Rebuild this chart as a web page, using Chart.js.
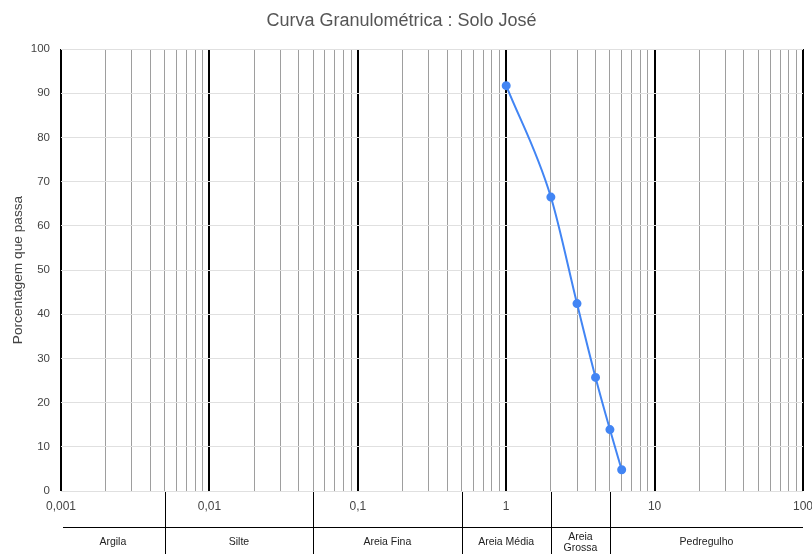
<!DOCTYPE html>
<html>
<head>
    <meta charset="utf-8">
    <title>Curva Granulométrica</title>
    <script src="https://cdn.jsdelivr.net/npm/chart.js@4.4.1/dist/chart.umd.min.js"></script>
    <style>
    html,
    body {
        margin: 0;
        padding: 0;
        background: #fff;
    }
    #wrap {
        width: 812px;
        height: 554px;
    }
    </style>
</head>
<body>
    <div id="wrap"><canvas id="myChart"></canvas></div>

    <script>
      // diâmetro das partículas (mm) e porcentagem que passa
      const diametros = [1, 2, 3, 4, 5, 6];
      const passa = [91.7, 66.5, 42.4, 25.7, 13.9, 4.8];

      // rótulos das décadas do eixo x
      const decadas = [0.001, 0.01, 0.1, 1, 10, 100];
      const rotulosDecadas = ['0,001', '0,01', '0,1', '1', '10', '100'];

      // faixas granulométricas (limites em mm)
      const faixas = ['Argila', 'Silte', 'Areia Fina', 'Areia Média', ['Areia', 'Grossa'], 'Pedregulho'];
      const limitesFaixas = [0.005, 0.05, 0.5, 2, 5];

      const fonte = '"Liberation Sans", Arial, sans-serif';

      function isDecada(v) {
        const l = Math.log10(v);
        return Math.abs(l - Math.round(l)) < 1e-6;
      }

      // tabela das faixas desenhada embaixo do eixo x
      const tabelaFaixas = {
        id: 'tabelaFaixas',
        afterDraw(chart) {
          const ctx = chart.ctx;
          const area = chart.chartArea;
          const x = chart.scales.x;
          const bottom = chart.height;
          const linhaY = area.bottom + 36;
          ctx.save();
          ctx.strokeStyle = '#000';
          ctx.lineWidth = 1;
          ctx.beginPath();
          ctx.moveTo(area.left + 2, linhaY + 0.5);
          ctx.lineTo(area.right, linhaY + 0.5);
          limitesFaixas.forEach(v => {
            const px = Math.round(x.getPixelForValue(v)) + 0.5;
            ctx.moveTo(px, area.bottom + 1);
            ctx.lineTo(px, bottom);
          });
          ctx.stroke();

          const bordas = [area.left].concat(limitesFaixas.map(v => x.getPixelForValue(v)), [area.right]);
          ctx.fillStyle = '#222';
          ctx.font = '10.5px ' + fonte;
          ctx.textAlign = 'center';
          ctx.textBaseline = 'middle';
          faixas.forEach((nome, i) => {
            const cx = (bordas[i] + bordas[i + 1]) / 2;
            if (Array.isArray(nome)) {
              ctx.fillText(nome[0], cx, linhaY + 10);
              ctx.fillText(nome[1], cx, linhaY + 21);
            } else {
              ctx.fillText(nome, cx, linhaY + 15);
            }
          });
          ctx.restore();
        }
      };

      const ctx = document.getElementById('myChart').getContext('2d');
      const myChart = new Chart(ctx, {
        type: 'line',
        data: {
          datasets: [
            {
              label: 'Porcentagem que passa',
              data: diametros.map((d, i) => ({ x: d, y: passa[i] })),
              borderColor: '#4285f4',
              backgroundColor: '#4285f4',
              borderWidth: 2,
              pointRadius: 3.5,
              pointHoverRadius: 4,
              cubicInterpolationMode: 'monotone',
              fill: false
            }
          ]
        },
        options: {
          responsive: true,
          maintainAspectRatio: false,
          animation: false,
          layout: { padding: { right: 9 } },
          plugins: {
            legend: { display: false },
            tooltip: { enabled: false },
            title: {
              display: true,
              text: 'Curva Granulométrica : Solo José',
              color: '#555',
              font: { family: fonte, size: 18, weight: 'normal' },
              padding: { top: 10, bottom: 17.4 }
            }
          },
          scales: {
            x: {
              type: 'logarithmic',
              min: 0.001,
              max: 100,
              afterBuildTicks(scale) {
                const ticks = [];
                decadas.forEach((d, i) => {
                  if (i === decadas.length - 1) {
                    ticks.push({ value: d });
                    return;
                  }
                  for (let k = 1; k <= 9; k++) ticks.push({ value: +(d * k).toPrecision(6) });
                });
                scale.ticks = ticks;
              },
              afterFit(scale) {
                scale.height = 63;
                // o rótulo "100" pode passar da borda
                scale.paddingLeft = 0;
                scale.paddingRight = 0;
              },
              border: { display: false },
              grid: {
                drawTicks: false,
                color: c => isDecada(c.tick.value) ? '#000' : '#9e9e9e',
                lineWidth: c => isDecada(c.tick.value) ? 2 : 1
              },
              ticks: {
                autoSkip: false,
                maxRotation: 0,
                padding: 8,
                color: '#444',
                font: { family: fonte, size: 12 },
                callback(value) {
                  const i = decadas.findIndex(d => Math.abs(d - value) < d * 1e-6);
                  return i >= 0 ? rotulosDecadas[i] : '';
                }
              }
            },
            y: {
              min: 0,
              max: 100,
              afterFit(scale) { scale.width = 61; },
              border: { display: false },
              grid: { drawTicks: false, color: '#e0e0e0', lineWidth: 1 },
              ticks: {
                stepSize: 10,
                padding: 11,
                color: '#444',
                font: { family: fonte, size: 11.5 }
              },
              title: {
                display: true,
                text: 'Porcentagem que passa',
                color: '#444',
                font: { family: fonte, size: 13.7 },
                padding: { top: 10, bottom: 0 }
              }
            }
          }
        },
        plugins: [tabelaFaixas]
      });
    </script>
</body>
</html>
